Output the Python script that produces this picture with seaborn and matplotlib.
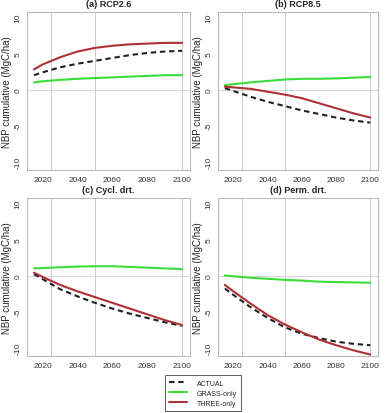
import numpy as np
import pandas as pd
import matplotlib
matplotlib.use("Agg")
import matplotlib.pyplot as plt
import seaborn as sns
from matplotlib.lines import Line2D

sns.set_style("white")
plt.rcParams['font.family'] = ['Liberation Sans', 'DejaVu Sans']

# years of the simulation
years = [2015, 2020, 2030, 2040, 2050, 2060, 2070, 2080, 2090, 2100]

panel_titles = ["(a) RCP2.6", "(b) RCP8.5", "(c) Cycl. drt.", "(d) Perm. drt."]
series_names = ["ACTUAL", "GRASS-only", "THREE-only"]

# (a) RCP2.6
a_actual = [2.0, 2.4, 3.1, 3.6, 4.0, 4.4, 4.8, 5.1, 5.3, 5.4]
a_grass = [1.0, 1.15, 1.35, 1.5, 1.6, 1.7, 1.8, 1.9, 2.0, 2.0]
a_tree = [2.8, 3.5, 4.5, 5.3, 5.8, 6.1, 6.3, 6.4, 6.5, 6.5]
# (b) RCP8.5
b_actual = [0.2, -0.2, -1.0, -1.7, -2.3, -2.9, -3.4, -3.9, -4.3, -4.6]
b_grass = [0.6, 0.75, 1.0, 1.2, 1.4, 1.5, 1.5, 1.55, 1.65, 1.75]
b_tree = [0.4, 0.3, 0.1, -0.3, -0.7, -1.2, -1.9, -2.6, -3.3, -3.9]
# (c) cyclic drought
c_actual = [0.2, -0.5, -1.9, -2.9, -3.8, -4.6, -5.3, -5.9, -6.5, -7.0]
c_grass = [1.0, 1.05, 1.15, 1.25, 1.3, 1.3, 1.2, 1.1, 1.0, 0.9]
c_tree = [0.4, -0.2, -1.3, -2.2, -3.0, -3.8, -4.6, -5.4, -6.2, -6.9]
# (d) permanent drought
d_actual = [-1.8, -2.7, -4.4, -5.9, -7.2, -8.1, -8.7, -9.2, -9.5, -9.7]
d_grass = [0.0, -0.1, -0.3, -0.45, -0.6, -0.7, -0.85, -0.9, -0.95, -1.0]
d_tree = [-1.3, -2.2, -3.9, -5.5, -6.8, -7.9, -8.9, -9.7, -10.4, -11.0]

panels = [(a_actual, a_grass, a_tree), (b_actual, b_grass, b_tree),
          (c_actual, c_grass, c_tree), (d_actual, d_grass, d_tree)]

colors = {"ACTUAL": "#222222", "GRASS-only": "#3ddc3d", "THREE-only": "#b03038"}
dashes = {"ACTUAL": (2.6, 1.8), "GRASS-only": "", "THREE-only": ""}

fig = plt.figure(figsize=(3.88, 4.14), dpi=100)
# axes boxes in pixels: left, top, right, bottom
boxes = [(27, 13, 190, 171), (218, 13, 378, 171),
         (27, 199, 190, 357), (218, 199, 378, 357)]
W, H = 388, 414

for i, (title, data) in enumerate(zip(panel_titles, panels)):
    l, t, r, b = boxes[i]
    ax = fig.add_axes([l / W, 1 - b / H, (r - l) / W, (b - t) / H])
    rows = []
    for name, vals in zip(series_names, data):
        for y, v in zip(years, vals):
            rows.append({"Year": y, "NBP": v, "Run": name})
    df = pd.DataFrame(rows)

    # reference lines
    for xv in [2025, 2050, 2100]:
        ax.axvline(xv, color="#c4c4c4", lw=0.6, zorder=0)
    ax.axhline(0, color="#d0d0d0", lw=0.6, zorder=0)

    sns.lineplot(data=df, x="Year", y="NBP", hue="Run", style="Run",
                 palette=colors, dashes=dashes, linewidth=1.5,
                 legend=False, ax=ax)

    ax.set_xlim(2011, 2104.5)
    ax.set_ylim(-11.2, 10.8)
    ax.set_xticks([2020, 2040, 2060, 2080, 2100])
    ax.set_yticks([-10, -5, 0, 5, 10])
    ax.set_yticklabels(["-10", "-5", "0", "5", "10"], rotation=90, va="center")
    ax.tick_params(axis="both", labelsize=6, labelcolor="#333333", length=2.5,
                   width=0.6, pad=1.5, direction="out", color="#777777")
    ax.set_xlabel("")
    ax.set_ylabel("NBP cumulative (MgC/ha)", fontsize=7, labelpad=2)
    ax.set_title(title, fontsize=6.5, fontweight="bold", pad=4)
    for sp in ax.spines.values():
        sp.set_color("#bbbbbb")
        sp.set_linewidth(0.8)

handles = [Line2D([], [], color=colors["ACTUAL"], lw=1.5, dashes=(2.6, 1.8)),
           Line2D([], [], color=colors["GRASS-only"], lw=1.5),
           Line2D([], [], color=colors["THREE-only"], lw=1.5)]
leg = fig.legend(handles, series_names, loc="center", bbox_to_anchor=(0.523, 0.048),
                 fontsize=5, frameon=True, fancybox=False, handlelength=2.6,
                 borderpad=0.6, labelspacing=0.45, handletextpad=1.4)
leg.get_frame().set_edgecolor("#333333")
leg.get_frame().set_linewidth(0.7)

fig.savefig("out.png", dpi=100)
